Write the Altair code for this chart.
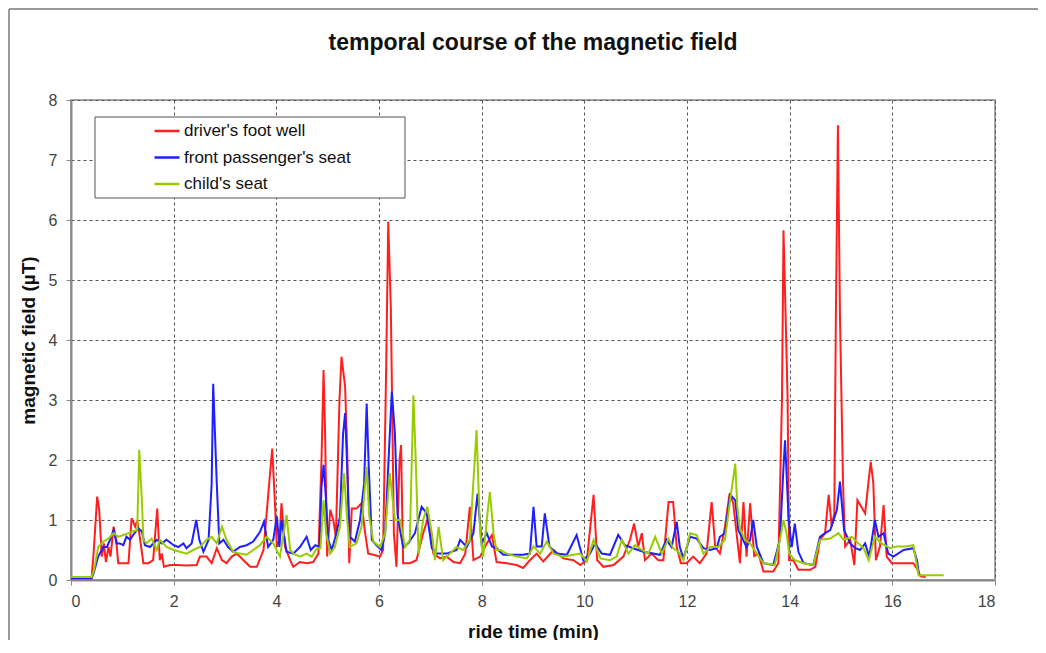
import altair as alt
import pandas as pd

series_names = ["driver's foot well", "front passenger's seat", "child's seat"]
series_colors = ["#ff1f1f", "#1f1fff", "#99cc00"]

red_t = [0, 0.4, 0.44, 0.51, 0.55, 0.6, 0.64, 0.68, 0.73, 0.77, 0.83, 0.88, 0.92, 1.02, 1.12, 1.18, 1.25, 1.29, 1.34, 1.41,
         1.51, 1.6, 1.68, 1.73, 1.77, 1.81, 1.93, 2.06, 2.25, 2.45, 2.51, 2.64, 2.74, 2.84, 2.94, 3.03, 3.13, 3.23, 3.36, 3.49,
         3.62, 3.75, 3.86, 3.92, 3.97, 4.01, 4.06, 4.1, 4.17, 4.27, 4.33, 4.46, 4.59, 4.72, 4.82, 4.88, 4.92, 4.95, 4.99, 5.05,
         5.11, 5.16, 5.23, 5.27, 5.34, 5.38, 5.42, 5.47, 5.56, 5.66, 5.73, 5.79, 5.89, 6.02, 6.08, 6.14, 6.18, 6.23, 6.29, 6.34,
         6.4, 6.43, 6.47, 6.6, 6.73, 6.86, 6.96, 7.06, 7.19, 7.32, 7.45, 7.58, 7.68, 7.77, 7.84, 7.97, 8.1, 8.2, 8.29, 8.49,
         8.68, 8.81, 8.94, 9.07, 9.2, 9.4, 9.59, 9.79, 9.92, 10.05, 10.18, 10.25, 10.37, 10.57, 10.76, 10.89, 10.97, 11.05, 11.12, 11.18,
         11.31, 11.44, 11.54, 11.64, 11.73, 11.8, 11.88, 11.99, 12.12, 12.25, 12.38, 12.48, 12.55, 12.64, 12.74, 12.83, 12.9, 12.98, 13.03, 13.1,
         13.16, 13.23, 13.31, 13.39, 13.49, 13.68, 13.78, 13.85, 13.88, 13.92, 13.96, 13.99, 14.07, 14.17, 14.4, 14.5, 14.59, 14.69, 14.76, 14.82,
         14.87, 14.9, 14.94, 14.98, 15.04, 15.08, 15.18, 15.26, 15.32, 15.47, 15.54, 15.58, 15.63, 15.68, 15.76, 15.83, 15.89, 15.99, 16.15, 16.41,
         16.48, 16.55, 16.65]
red_v = [0.03, 0.03, 0.44, 1.39, 1.17, 0.39, 0.61, 0.3, 0.55, 0.39, 0.89, 0.67, 0.28, 0.28, 0.28, 1.03, 0.89, 0.99, 0.72, 0.28,
         0.28, 0.33, 1.19, 0.33, 0.44, 0.22, 0.25, 0.25, 0.24, 0.25, 0.39, 0.39, 0.28, 0.53, 0.33, 0.28, 0.39, 0.44, 0.33, 0.22,
         0.22, 0.5, 1.6, 2.19, 1.33, 0.55, 0.67, 1.28, 0.55, 0.33, 0.22, 0.3, 0.28, 0.3, 0.44, 2.0, 3.5, 2.44, 0.39, 1.17,
         1.0, 0.72, 3.0, 3.72, 3.22, 2.17, 0.28, 1.19, 1.19, 1.28, 0.78, 0.44, 0.42, 0.39, 0.5, 3.56, 5.97, 4.56, 0.78, 0.22,
         2.0, 2.25, 0.28, 0.28, 0.33, 0.78, 1.05, 0.44, 0.36, 0.39, 0.3, 0.28, 0.44, 1.22, 0.33, 0.39, 0.61, 0.75, 0.3, 0.28,
         0.25, 0.2, 0.33, 0.44, 0.31, 0.5, 0.36, 0.33, 0.25, 0.33, 1.42, 0.33, 0.22, 0.25, 0.39, 0.67, 0.94, 0.56, 0.78, 0.33,
         0.44, 0.33, 0.33, 1.3, 1.3, 0.55, 0.28, 0.28, 0.39, 0.28, 0.44, 1.3, 0.55, 0.44, 0.89, 1.44, 1.28, 0.67, 0.28, 1.3,
         0.39, 1.28, 0.4, 0.44, 0.14, 0.14, 0.28, 3.0, 5.83, 4.44, 3.0, 0.33, 0.33, 0.17, 0.17, 0.22, 0.67, 0.78, 1.42, 0.89,
         1.11, 4.39, 7.58, 4.39, 1.61, 0.56, 0.67, 0.25, 1.33, 1.11, 1.67, 1.97, 1.61, 0.33, 0.56, 1.25, 0.39, 0.28, 0.28, 0.28,
         0.19, 0.06, 0.05]

blue_t = [0, 0.4, 0.44, 0.53, 0.63, 0.7, 0.76, 0.83, 0.89, 0.95, 1.02, 1.08, 1.15, 1.21, 1.31, 1.38, 1.44, 1.54, 1.67, 1.77,
          1.86, 2.0, 2.09, 2.19, 2.25, 2.35, 2.44, 2.5, 2.58, 2.68, 2.74, 2.77, 2.84, 2.89, 2.97, 3.06, 3.16, 3.29, 3.42, 3.55,
          3.68, 3.76, 3.84, 3.94, 4.01, 4.06, 4.1, 4.2, 4.33, 4.46, 4.59, 4.67, 4.76, 4.84, 4.88, 4.92, 4.96, 5.01, 5.08, 5.17,
          5.24, 5.3, 5.34, 5.38, 5.43, 5.53, 5.63, 5.71, 5.76, 5.8, 5.86, 5.95, 6.05, 6.12, 6.18, 6.25, 6.31, 6.36, 6.41, 6.47,
          6.57, 6.7, 6.83, 6.93, 7.03, 7.12, 7.32, 7.51, 7.58, 7.71, 7.84, 7.92, 8.0, 8.1, 8.2, 8.29, 8.42, 8.62, 8.81, 8.94,
          9.01, 9.07, 9.17, 9.23, 9.32, 9.46, 9.66, 9.85, 9.98, 10.11, 10.21, 10.34, 10.5, 10.66, 10.79, 10.95, 11.15, 11.34, 11.47, 11.6,
          11.7, 11.8, 11.86, 11.93, 12.06, 12.19, 12.32, 12.45, 12.58, 12.64, 12.74, 12.84, 12.94, 13.0, 13.16, 13.23, 13.29, 13.36, 13.49, 13.68,
          13.81, 13.88, 13.91, 13.98, 14.04, 14.1, 14.17, 14.27, 14.46, 14.59, 14.69, 14.79, 14.92, 14.98, 15.06, 15.18, 15.28, 15.37, 15.47, 15.55,
          15.66, 15.73, 15.83, 15.92, 16.02, 16.22, 16.41, 16.48, 16.52]
blue_v = [0.03, 0.03, 0.11, 0.39, 0.55, 0.55, 0.67, 0.83, 0.61, 0.61, 0.58, 0.72, 0.67, 0.75, 0.86, 0.81, 0.58, 0.55, 0.67, 0.61,
          0.67, 0.58, 0.55, 0.61, 0.53, 0.61, 1.0, 0.67, 0.47, 0.67, 1.6, 3.27, 1.6, 0.61, 0.67, 0.55, 0.47, 0.55, 0.58, 0.64,
          0.8, 0.97, 0.55, 0.67, 1.06, 0.55, 1.0, 0.47, 0.44, 0.55, 0.72, 0.5, 0.58, 0.55, 1.55, 1.92, 1.44, 0.67, 0.5, 0.78,
          1.06, 2.44, 2.78, 1.89, 0.72, 0.64, 1.0, 1.61, 2.94, 1.89, 0.67, 0.58, 0.5, 0.78, 1.89, 3.14, 2.44, 1.11, 0.83, 0.55,
          0.61, 0.78, 1.22, 1.11, 0.53, 0.44, 0.44, 0.5, 0.67, 0.55, 0.78, 1.44, 0.61, 0.78, 0.56, 0.53, 0.42, 0.42, 0.42, 0.44,
          1.22, 0.56, 0.56, 1.11, 0.56, 0.44, 0.42, 0.75, 0.33, 0.44, 0.61, 0.44, 0.42, 0.75, 0.58, 0.53, 0.47, 0.44, 0.42, 0.67,
          0.55, 0.97, 0.55, 0.36, 0.72, 0.69, 0.53, 0.5, 0.53, 0.72, 0.78, 1.42, 1.33, 0.83, 0.55, 0.67, 1.0, 0.55, 0.28, 0.25,
          0.67, 1.89, 2.33, 1.0, 0.55, 0.94, 0.47, 0.28, 0.25, 0.72, 0.78, 0.83, 1.17, 1.64, 0.83, 0.61, 0.53, 0.5, 0.61, 0.39,
          1.0, 0.72, 0.78, 0.44, 0.39, 0.5, 0.53, 0.33, 0.08]

green_t = [0, 0.4, 0.45, 0.53, 0.63, 0.73, 0.83, 0.92, 1.02, 1.12, 1.21, 1.29, 1.33, 1.38, 1.41, 1.47, 1.57, 1.67, 1.73, 1.86,
           2.0, 2.12, 2.25, 2.38, 2.51, 2.64, 2.74, 2.84, 2.94, 3.03, 3.16, 3.29, 3.42, 3.55, 3.68, 3.81, 3.94, 4.07, 4.2, 4.27,
           4.33, 4.46, 4.59, 4.69, 4.79, 4.86, 4.92, 4.97, 5.05, 5.14, 5.24, 5.32, 5.38, 5.43, 5.56, 5.66, 5.76, 5.81, 5.89, 6.02,
           6.12, 6.21, 6.31, 6.41, 6.51, 6.6, 6.67, 6.72, 6.77, 6.86, 6.94, 7.03, 7.09, 7.16, 7.25, 7.38, 7.51, 7.64, 7.77, 7.9,
           7.97, 8.03, 8.12, 8.16, 8.23, 8.29, 8.36, 8.49, 8.68, 8.88, 9.01, 9.14, 9.27, 9.4, 9.59, 9.79, 9.92, 10.05, 10.18, 10.31,
           10.5, 10.63, 10.73, 10.86, 10.99, 11.12, 11.25, 11.38, 11.51, 11.64, 11.73, 11.83, 11.93, 12.06, 12.19, 12.32, 12.45, 12.61, 12.74, 12.84,
           12.94, 12.98, 13.03, 13.13, 13.23, 13.36, 13.49, 13.71, 13.81, 13.88, 13.94, 13.99, 14.1, 14.27, 14.46, 14.59, 14.79, 14.95, 15.05, 15.21,
           15.34, 15.44, 15.54, 15.66, 15.79, 15.96, 16.09, 16.25, 16.41, 16.51, 17.0]
green_v = [0.05, 0.05, 0.17, 0.55, 0.64, 0.69, 0.78, 0.72, 0.75, 0.78, 0.81, 0.83, 2.17, 1.33, 0.67, 0.61, 0.69, 0.5, 0.67, 0.55,
           0.5, 0.47, 0.44, 0.5, 0.55, 0.67, 0.72, 0.61, 0.89, 0.67, 0.47, 0.44, 0.42, 0.5, 0.58, 0.72, 0.61, 0.39, 1.08, 0.5,
           0.44, 0.39, 0.44, 0.39, 0.53, 0.53, 1.33, 0.78, 0.44, 0.55, 0.89, 1.78, 1.0, 0.55, 0.61, 0.89, 1.89, 1.06, 0.64, 0.55,
           0.78, 1.78, 1.0, 1.0, 0.55, 0.67, 3.08, 1.89, 0.44, 1.0, 1.22, 0.78, 0.33, 0.89, 0.33, 0.44, 0.55, 0.5, 0.67, 2.5,
           0.78, 0.39, 1.17, 1.47, 0.78, 0.5, 0.5, 0.44, 0.39, 0.36, 0.56, 0.44, 0.64, 0.44, 0.39, 0.42, 0.44, 0.31, 0.67, 0.36,
           0.33, 0.39, 0.67, 0.44, 0.58, 0.5, 0.44, 0.72, 0.44, 0.69, 0.53, 0.47, 0.33, 0.78, 0.75, 0.44, 0.55, 0.55, 0.67, 1.33,
           1.94, 1.22, 0.86, 0.67, 0.61, 0.44, 0.28, 0.25, 0.67, 1.0, 0.78, 0.44, 0.33, 0.28, 0.25, 0.67, 0.69, 0.78, 0.67, 0.72,
           0.61, 0.53, 0.33, 0.72, 0.61, 0.53, 0.56, 0.56, 0.58, 0.08, 0.08]

x_ticks = [0, 2, 4, 6, 8, 10, 12, 14, 16, 18]
y_ticks = [0, 1, 2, 3, 4, 5, 6, 7, 8]

rows = []
for name, ts, vs in zip(series_names, [red_t, blue_t, green_t], [red_v, blue_v, green_v]):
    for i, (t, v) in enumerate(zip(ts, vs)):
        rows.append({"series": name, "t": t, "v": v, "idx": i})
df = pd.DataFrame(rows)

FONT = "Liberation Sans"

lines = alt.Chart(df).mark_line(strokeWidth=2, clip=True).encode(
    x=alt.X("t:Q", scale=alt.Scale(domain=[0, 18], nice=False),
            axis=alt.Axis(values=x_ticks, title="ride time (min)", labelPadding=8, titlePadding=13)),
    y=alt.Y("v:Q", scale=alt.Scale(domain=[0, 8], nice=False),
            axis=alt.Axis(values=y_ticks, title="magnetic field (µT)", labelPadding=9, titlePadding=10)),
    color=alt.Color("series:N", sort=series_names,
                    scale=alt.Scale(domain=series_names, range=series_colors),
                    legend=alt.Legend(title=None, orient="none", legendX=82, legendY=17,
                                      symbolType="stroke", symbolSize=625, symbolStrokeWidth=2.5,
                                      labelFont=FONT, labelFontSize=17, labelColor="#111", labelLimit=400,
                                      labelOffset=3, rowPadding=4.5, padding=0)),
    order=alt.Order("idx:Q"),
)

legend_box = alt.Chart(pd.DataFrame({"k": [0]})).mark_rect(
    fill="white", stroke="#555", strokeWidth=1
).encode(x=alt.value(24), x2=alt.value(334), y=alt.value(17), y2=alt.value(98))

frame_left = alt.Chart(pd.DataFrame({"k": [0]})).mark_rule(color="#999", strokeWidth=2).encode(
    x=alt.value(-62), y=alt.value(-91), y2=alt.value(600))
frame_top = alt.Chart(pd.DataFrame({"k": [0]})).mark_rule(color="#999", strokeWidth=2).encode(
    x=alt.value(-62), x2=alt.value(1000), y=alt.value(-91))

chart = alt.layer(frame_left, frame_top, lines, legend_box).properties(
    width=924, height=480,
    title=alt.TitleParams("temporal course of the magnetic field", anchor="middle", frame="group",
                          font=FONT, fontSize=23, fontWeight="bold", color="#111", offset=-47),
    autosize=alt.AutoSizeParams(type="none"),
    padding={"left": 63, "top": 92, "right": 43, "bottom": 60},
).configure(background="white").configure_view(
    stroke="#888", strokeWidth=1.5
).configure_axis(
    grid=True, gridDash=[3, 3], gridColor="#555", gridWidth=1,
    domainColor="#888", domainWidth=2, tickColor="#888", tickSize=5,
    labelFont=FONT, labelFontSize=16, labelColor="#444",
    titleFont=FONT, titleFontSize=19, titleFontWeight="bold", titleColor="#111",
)

chart.save("out.html", embed_options={"renderer": "svg", "actions": False})
